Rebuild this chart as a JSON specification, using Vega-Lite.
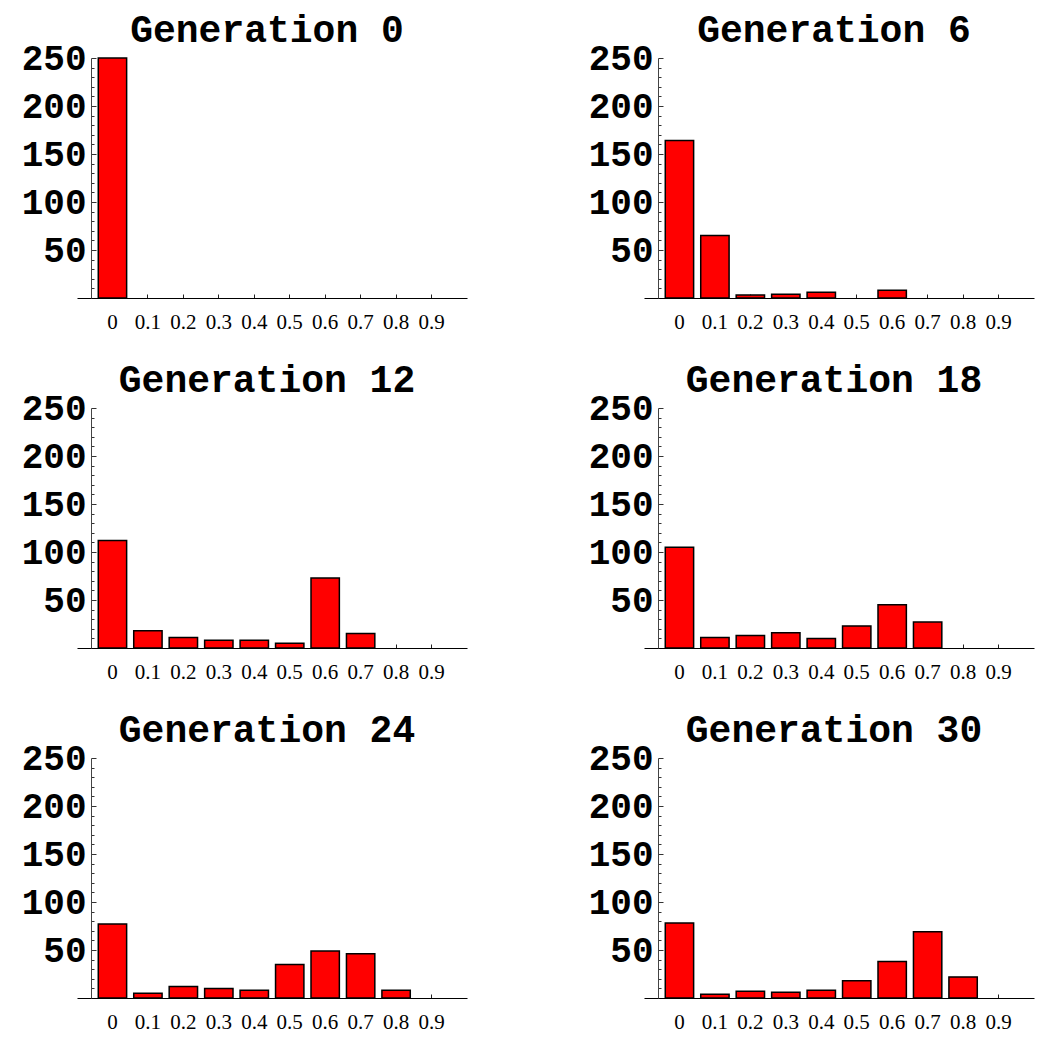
{
  "$schema": "https://vega.github.io/schema/vega-lite/v6.json",
  "background": "white",
  "padding": {"left": 21, "top": 12, "right": 5, "bottom": 5},
  "data": {"values": [
    {"gen": 0, "bin": "0", "count": 250},
    {"gen": 6, "bin": "0", "count": 164},
    {"gen": 6, "bin": "0.1", "count": 65},
    {"gen": 6, "bin": "0.2", "count": 3},
    {"gen": 6, "bin": "0.3", "count": 4},
    {"gen": 6, "bin": "0.4", "count": 6},
    {"gen": 6, "bin": "0.6", "count": 8},
    {"gen": 12, "bin": "0", "count": 112},
    {"gen": 12, "bin": "0.1", "count": 18},
    {"gen": 12, "bin": "0.2", "count": 11},
    {"gen": 12, "bin": "0.3", "count": 8},
    {"gen": 12, "bin": "0.4", "count": 8},
    {"gen": 12, "bin": "0.5", "count": 5},
    {"gen": 12, "bin": "0.6", "count": 73},
    {"gen": 12, "bin": "0.7", "count": 15},
    {"gen": 18, "bin": "0", "count": 105},
    {"gen": 18, "bin": "0.1", "count": 11},
    {"gen": 18, "bin": "0.2", "count": 13},
    {"gen": 18, "bin": "0.3", "count": 16},
    {"gen": 18, "bin": "0.4", "count": 10},
    {"gen": 18, "bin": "0.5", "count": 23},
    {"gen": 18, "bin": "0.6", "count": 45},
    {"gen": 18, "bin": "0.7", "count": 27},
    {"gen": 24, "bin": "0", "count": 77},
    {"gen": 24, "bin": "0.1", "count": 5},
    {"gen": 24, "bin": "0.2", "count": 12},
    {"gen": 24, "bin": "0.3", "count": 10},
    {"gen": 24, "bin": "0.4", "count": 8},
    {"gen": 24, "bin": "0.5", "count": 35},
    {"gen": 24, "bin": "0.6", "count": 49},
    {"gen": 24, "bin": "0.7", "count": 46},
    {"gen": 24, "bin": "0.8", "count": 8},
    {"gen": 30, "bin": "0", "count": 78},
    {"gen": 30, "bin": "0.1", "count": 4},
    {"gen": 30, "bin": "0.2", "count": 7},
    {"gen": 30, "bin": "0.3", "count": 6},
    {"gen": 30, "bin": "0.4", "count": 8},
    {"gen": 30, "bin": "0.5", "count": 18},
    {"gen": 30, "bin": "0.6", "count": 38},
    {"gen": 30, "bin": "0.7", "count": 69},
    {"gen": 30, "bin": "0.8", "count": 22}
  ]},
  "columns": 2,
  "spacing": {"column": 121, "row": 30},
  "concat": [
    {"title": "Generation 0", "width": 390, "height": 240, "transform": [{"filter": "datum.gen == 0"}], "mark": "bar",
     "encoding": {
       "x": {"field": "bin", "type": "nominal", "title": null, "scale": {"domain": ["0","0.1","0.2","0.3","0.4","0.5","0.6","0.7","0.8","0.9"], "paddingInner": 0.2, "paddingOuter": 0.6}, "axis": {"labelAngle": 0, "tickSize": -4, "labelPadding": 17}},
       "y": {"field": "count", "type": "quantitative", "title": null, "scale": {"domain": [0, 250], "nice": false},
             "axis": {"offset": -14, "values": [10,20,30,40,50,60,70,80,90,100,110,120,130,140,150,160,170,180,190,200,210,220,230,240,250], "labelExpr": "datum.value % 50 === 0 ? datum.label : ''", "labelOverlap": false, "tickSize": {"condition": {"test": "datum.value % 50 === 0", "value": -5}, "value": -3}, "labelPadding": 10}}
     }},
    {"title": "Generation 6", "width": 390, "height": 240, "transform": [{"filter": "datum.gen == 6"}], "mark": "bar",
     "encoding": {
       "x": {"field": "bin", "type": "nominal", "title": null, "scale": {"domain": ["0","0.1","0.2","0.3","0.4","0.5","0.6","0.7","0.8","0.9"], "paddingInner": 0.2, "paddingOuter": 0.6}, "axis": {"labelAngle": 0, "tickSize": -4, "labelPadding": 17}},
       "y": {"field": "count", "type": "quantitative", "title": null, "scale": {"domain": [0, 250], "nice": false},
             "axis": {"offset": -14, "values": [10,20,30,40,50,60,70,80,90,100,110,120,130,140,150,160,170,180,190,200,210,220,230,240,250], "labelExpr": "datum.value % 50 === 0 ? datum.label : ''", "labelOverlap": false, "tickSize": {"condition": {"test": "datum.value % 50 === 0", "value": -5}, "value": -3}, "labelPadding": 10}}
     }},
    {"title": "Generation 12", "width": 390, "height": 240, "transform": [{"filter": "datum.gen == 12"}], "mark": "bar",
     "encoding": {
       "x": {"field": "bin", "type": "nominal", "title": null, "scale": {"domain": ["0","0.1","0.2","0.3","0.4","0.5","0.6","0.7","0.8","0.9"], "paddingInner": 0.2, "paddingOuter": 0.6}, "axis": {"labelAngle": 0, "tickSize": -4, "labelPadding": 17}},
       "y": {"field": "count", "type": "quantitative", "title": null, "scale": {"domain": [0, 250], "nice": false},
             "axis": {"offset": -14, "values": [10,20,30,40,50,60,70,80,90,100,110,120,130,140,150,160,170,180,190,200,210,220,230,240,250], "labelExpr": "datum.value % 50 === 0 ? datum.label : ''", "labelOverlap": false, "tickSize": {"condition": {"test": "datum.value % 50 === 0", "value": -5}, "value": -3}, "labelPadding": 10}}
     }},
    {"title": "Generation 18", "width": 390, "height": 240, "transform": [{"filter": "datum.gen == 18"}], "mark": "bar",
     "encoding": {
       "x": {"field": "bin", "type": "nominal", "title": null, "scale": {"domain": ["0","0.1","0.2","0.3","0.4","0.5","0.6","0.7","0.8","0.9"], "paddingInner": 0.2, "paddingOuter": 0.6}, "axis": {"labelAngle": 0, "tickSize": -4, "labelPadding": 17}},
       "y": {"field": "count", "type": "quantitative", "title": null, "scale": {"domain": [0, 250], "nice": false},
             "axis": {"offset": -14, "values": [10,20,30,40,50,60,70,80,90,100,110,120,130,140,150,160,170,180,190,200,210,220,230,240,250], "labelExpr": "datum.value % 50 === 0 ? datum.label : ''", "labelOverlap": false, "tickSize": {"condition": {"test": "datum.value % 50 === 0", "value": -5}, "value": -3}, "labelPadding": 10}}
     }},
    {"title": "Generation 24", "width": 390, "height": 240, "transform": [{"filter": "datum.gen == 24"}], "mark": "bar",
     "encoding": {
       "x": {"field": "bin", "type": "nominal", "title": null, "scale": {"domain": ["0","0.1","0.2","0.3","0.4","0.5","0.6","0.7","0.8","0.9"], "paddingInner": 0.2, "paddingOuter": 0.6}, "axis": {"labelAngle": 0, "tickSize": -4, "labelPadding": 17}},
       "y": {"field": "count", "type": "quantitative", "title": null, "scale": {"domain": [0, 250], "nice": false},
             "axis": {"offset": -14, "values": [10,20,30,40,50,60,70,80,90,100,110,120,130,140,150,160,170,180,190,200,210,220,230,240,250], "labelExpr": "datum.value % 50 === 0 ? datum.label : ''", "labelOverlap": false, "tickSize": {"condition": {"test": "datum.value % 50 === 0", "value": -5}, "value": -3}, "labelPadding": 10}}
     }},
    {"title": "Generation 30", "width": 390, "height": 240, "transform": [{"filter": "datum.gen == 30"}], "mark": "bar",
     "encoding": {
       "x": {"field": "bin", "type": "nominal", "title": null, "scale": {"domain": ["0","0.1","0.2","0.3","0.4","0.5","0.6","0.7","0.8","0.9"], "paddingInner": 0.2, "paddingOuter": 0.6}, "axis": {"labelAngle": 0, "tickSize": -4, "labelPadding": 17}},
       "y": {"field": "count", "type": "quantitative", "title": null, "scale": {"domain": [0, 250], "nice": false},
             "axis": {"offset": -14, "values": [10,20,30,40,50,60,70,80,90,100,110,120,130,140,150,160,170,180,190,200,210,220,230,240,250], "labelExpr": "datum.value % 50 === 0 ? datum.label : ''", "labelOverlap": false, "tickSize": {"condition": {"test": "datum.value % 50 === 0", "value": -5}, "value": -3}, "labelPadding": 10}}
     }}
  ],
  "config": {
    "view": {"stroke": null},
    "axis": {"grid": false},
    "axisX": {"labelFont": "Liberation Serif", "labelFontSize": 21, "labelColor": "black", "tickColor": "#222", "domainColor": "black", "domainWidth": 1.2},
    "axisY": {"labelFont": "Liberation Mono", "labelFontWeight": "bold", "labelFontSize": 36, "labelColor": "black", "tickColor": "#333", "domainColor": "#444"},
    "title": {"font": "Liberation Mono", "fontWeight": "bold", "fontSize": 38, "color": "black", "anchor": "middle", "offset": -10, "baseline": "alphabetic", "dx": -5},
    "bar": {"fill": "#ff0000", "stroke": "black", "strokeWidth": 1.5}
  }
}
